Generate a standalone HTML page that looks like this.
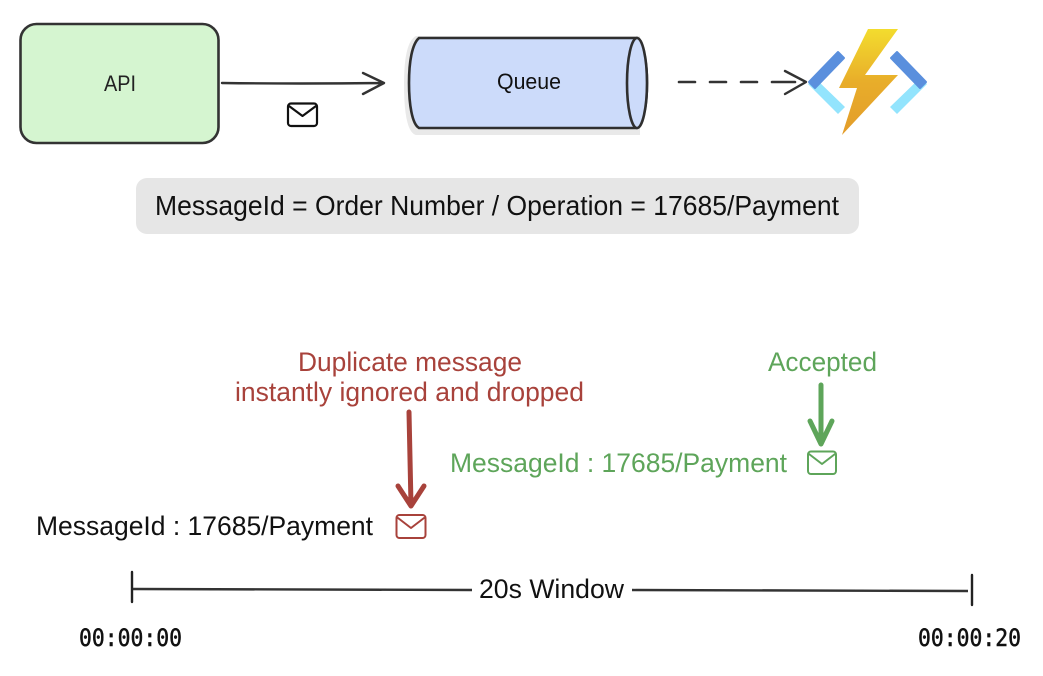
<!DOCTYPE html>
<html><head><meta charset="utf-8"><style>
html,body{margin:0;padding:0;background:#fff;width:1043px;height:676px;overflow:hidden}
svg{display:block;filter:blur(.35px)}
text{font-family:"Liberation Sans",sans-serif}
</style></head><body>
<svg width="1043" height="676" viewBox="0 0 1043 676" xmlns="http://www.w3.org/2000/svg">
<defs><linearGradient id="b" x1="0" y1="0" x2="0" y2="1"><stop offset="0" stop-color="#f3dc2e"/><stop offset=".5" stop-color="#e8ad2a"/><stop offset="1" stop-color="#e39c2a"/></linearGradient></defs>
<rect x="20.5" y="24" width="198" height="119" rx="16" fill="#d5f5d0" stroke="#333" stroke-width="2.6"/>
<text x="120" y="91" font-size="22" text-anchor="middle" fill="#222" textLength="32" lengthAdjust="spacingAndGlyphs">API</text>
<path d="M222 83Q300 84 383 83M363 73L384 83L363 94" fill="none" stroke="#333" stroke-width="2.4" stroke-linecap="round" stroke-linejoin="round"/>
<g fill="none" stroke="#111" stroke-width="2.2" stroke-linejoin="round" stroke-linecap="round"><rect x="288" y="103.500" width="29" height="22.500" rx="3"/><path d="M289 106L302.500 116L316 106"/></g>
<path d="M416 36H640V135H416Q404 132 404 84Q404 42 416 36Z" fill="#e9e9e9"/>
<path d="M419 38H637C644 44 647 64 647 83C647 103 644 122 637 128H419C412 124 409 104 409 83C409 62 412 44 419 38Z" fill="#ccdbfa" stroke="#2f2f2f" stroke-width="2.6"/>
<ellipse cx="637" cy="83" rx="10" ry="45" fill="#ccdbfa" stroke="#2f2f2f" stroke-width="2.6"/>
<text x="529" y="89" font-size="22" text-anchor="middle" fill="#111" textLength="64" lengthAdjust="spacingAndGlyphs">Queue</text>
<path d="M679 82H695M710 82H726M741 82H757M772 82H795" fill="none" stroke="#333" stroke-width="2.6" stroke-linecap="round"/>
<path d="M785 71L806 82L785 94" fill="none" stroke="#333" stroke-width="2.4" stroke-linecap="round" stroke-linejoin="round"/>
<g fill="#93e4fd">
<polygon points="815,78 845,107 838,114 808,84"/>
<polygon points="920,78 890,107 897,114 927,84"/>
</g>
<g fill="#5a8fdd" stroke="#5a8fdd" stroke-width="2" stroke-linejoin="round">
<polygon points="809,82 838,52 844,58 815,88"/>
<polygon points="926,82 897,52 891,58 920,88"/>
</g>
<path d="M868 29H898L865 75H898L842 135L857 88H839Z" fill="url(#b)"/>
<rect x="136" y="178" width="723" height="56" rx="11" fill="#e6e6e6"/>
<text x="155" y="215" font-size="28" fill="#111" textLength="684" lengthAdjust="spacingAndGlyphs">MessageId = Order Number / Operation = 17685/Payment</text>
<g font-size="27" fill="#a8423b">
<text x="298" y="371" textLength="224" lengthAdjust="spacingAndGlyphs">Duplicate message</text>
<text x="235" y="401" textLength="349" lengthAdjust="spacingAndGlyphs">instantly ignored and dropped</text>
</g>
<text x="768" y="371" font-size="27" fill="#5ea55a" textLength="109" lengthAdjust="spacingAndGlyphs">Accepted</text>
<path d="M409 412L411 505M398 486L411 506L424 486" fill="none" stroke="#a8423b" stroke-width="5" stroke-linecap="round" stroke-linejoin="round"/>
<path d="M821 385V443M810 421L821 444L832 421" fill="none" stroke="#5ea55a" stroke-width="5" stroke-linecap="round" stroke-linejoin="round"/>
<text x="450" y="472" font-size="27" fill="#5ea55a" textLength="337" lengthAdjust="spacingAndGlyphs">MessageId : 17685/Payment</text>
<g fill="none" stroke="#5ea55a" stroke-width="2" stroke-linejoin="round" stroke-linecap="round"><rect x="808" y="451.500" width="28" height="22.500" rx="3"/><path d="M809 454L822 464L835 454"/></g>
<text x="36" y="535" font-size="27" fill="#111" textLength="337" lengthAdjust="spacingAndGlyphs">MessageId : 17685/Payment</text>
<g fill="none" stroke="#a8423b" stroke-width="2" stroke-linejoin="round" stroke-linecap="round"><rect x="396.500" y="515" width="29" height="23" rx="3"/><path d="M398 518L411 528L424 518"/></g>
<path d="M132 572V602M972 575V605" stroke="#222" stroke-width="2.4" fill="none" stroke-linecap="round"/>
<path d="M133 589Q300 590 472 590M632 590Q800 590 968 591" stroke="#333" stroke-width="2.4" fill="none"/>
<text x="479" y="598" font-size="27" fill="#111" textLength="145" lengthAdjust="spacingAndGlyphs">20s Window</text>
<text x="79" y="646" font-size="24" fill="#111" stroke="#111" stroke-width=".5" textLength="103" lengthAdjust="spacingAndGlyphs" style="font-family:'DejaVu Sans Mono','Liberation Mono',monospace">00:00:00</text>
<text x="918" y="646" font-size="24" fill="#111" stroke="#111" stroke-width=".5" textLength="103" lengthAdjust="spacingAndGlyphs" style="font-family:'DejaVu Sans Mono','Liberation Mono',monospace">00:00:20</text>
</svg>
</body></html>
